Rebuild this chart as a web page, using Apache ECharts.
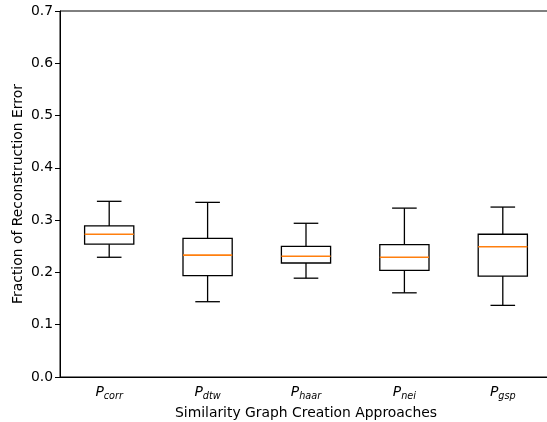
<!DOCTYPE html>
<html>
<head>
<meta charset="utf-8">
<script src="https://cdn.jsdelivr.net/npm/echarts@6/dist/echarts.min.js"></script>
<style>
	html, body { margin: 0; padding: 0; background: #fff; overflow: hidden; }
	#chart { width: 553px; height: 422px; }
</style>
</head>
<body>
<div id="chart"></div>
<script>
// 箱线图数据
var categories  = ['corr', 'dtw', 'haar', 'nei', 'gsp'];
var whiskerLow  = [0.229, 0.144, 0.189, 0.161, 0.137];
var q1          = [0.254, 0.194, 0.218, 0.204, 0.193];
var median      = [0.273, 0.233, 0.231, 0.229, 0.249];
var q3          = [0.289, 0.265, 0.250, 0.253, 0.273];
var whiskerHigh = [0.336, 0.334, 0.294, 0.323, 0.325];
var yTicks      = [0, 0.1, 0.2, 0.3, 0.4, 0.5, 0.6, 0.7];

var font = 'DejaVu Sans';
var boxData = categories.map(function (c, i) {
	return [i, whiskerLow[i], q1[i], median[i], q3[i], whiskerHigh[i]];
});

function renderBox(params, api) {
	var i = api.value(0);
	var band = api.size([1, 0])[0];
	var bw = band * 0.5, cw = band * 0.25;
	var pLow = api.coord([i, api.value(1)]);
	var pQ1 = api.coord([i, api.value(2)]);
	var pMed = api.coord([i, api.value(3)]);
	var pQ3 = api.coord([i, api.value(4)]);
	var pHigh = api.coord([i, api.value(5)]);
	var x = pQ1[0];
	var black = { stroke: '#000', lineWidth: 1.3, fill: null };
	return {
		type: 'group',
		children: [
			{ type: 'line', shape: { x1: x, y1: pLow[1], x2: x, y2: pQ1[1] }, style: black },
			{ type: 'line', shape: { x1: x, y1: pQ3[1], x2: x, y2: pHigh[1] }, style: black },
			{ type: 'line', shape: { x1: x - cw / 2, y1: pLow[1], x2: x + cw / 2, y2: pLow[1] }, style: black },
			{ type: 'line', shape: { x1: x - cw / 2, y1: pHigh[1], x2: x + cw / 2, y2: pHigh[1] }, style: black },
			{ type: 'rect', shape: { x: x - bw / 2, y: pQ3[1], width: bw, height: pQ1[1] - pQ3[1] }, style: black },
			{ type: 'line', shape: { x1: x - bw / 2, y1: pMed[1], x2: x + bw / 2, y2: pMed[1] }, style: { stroke: '#ff7f0e', lineWidth: 1.6 } }
		]
	};
}

var myChart = echarts.init(document.getElementById('chart'));
var option = {
	animation: false,
	backgroundColor: '#fff',
	grid: {
		left: 60,
		right: 1,
		top: 11,
		bottom: 45,
		outerBoundsMode: 'none',
		containLabel: false,
		show: true,
		borderColor: '#000',
		borderWidth: 1
	},
	xAxis: {
		type: 'category',
		data: categories,
		boundaryGap: true,
		name: 'Similarity Graph Creation Approaches',
		nameLocation: 'middle',
		nameGap: 29,
		nameMoveOverlap: false,
		nameTextStyle: { fontFamily: font, fontSize: 13.9, color: '#000', verticalAlign: 'top' },
		axisLine: { lineStyle: { color: '#000', width: 1 } },
		axisTick: { alignWithLabel: true, length: 5, lineStyle: { color: '#000' } },
		axisLabel: {
			margin: 7,
			color: '#000',
			formatter: function (v) { return '{p|P}{s|' + v + '}'; },
			rich: {
				p: { fontFamily: font, fontSize: 13.9, fontStyle: 'italic', color: '#000' },
				s: { fontFamily: font, fontSize: 9.7, fontStyle: 'italic', color: '#000', padding: [7, 0, 0, 0] }
			}
		}
	},
	yAxis: {
		type: 'value',
		min: 0,
		max: 0.7,
		interval: 0.1,
		name: 'Fraction of Reconstruction Error',
		nameLocation: 'middle',
		nameGap: 35,
		nameMoveOverlap: false,
		nameTextStyle: { fontFamily: font, fontSize: 13.9, color: '#000' },
		axisLine: { show: true, lineStyle: { color: '#000', width: 1 } },
		axisTick: { show: true, length: 5, lineStyle: { color: '#000' } },
		splitLine: { show: false },
		axisLabel: {
			margin: 7,
			fontFamily: font,
			fontSize: 13.9,
			color: '#000',
			formatter: function (v) { return v.toFixed(1); }
		}
	},
	series: [{
		type: 'custom',
		renderItem: renderBox,
		encode: { x: 0, y: [1, 2, 3, 4, 5] },
		data: boxData,
		z: 10
	}]
};
myChart.setOption(option);
</script>
</body>
</html>
